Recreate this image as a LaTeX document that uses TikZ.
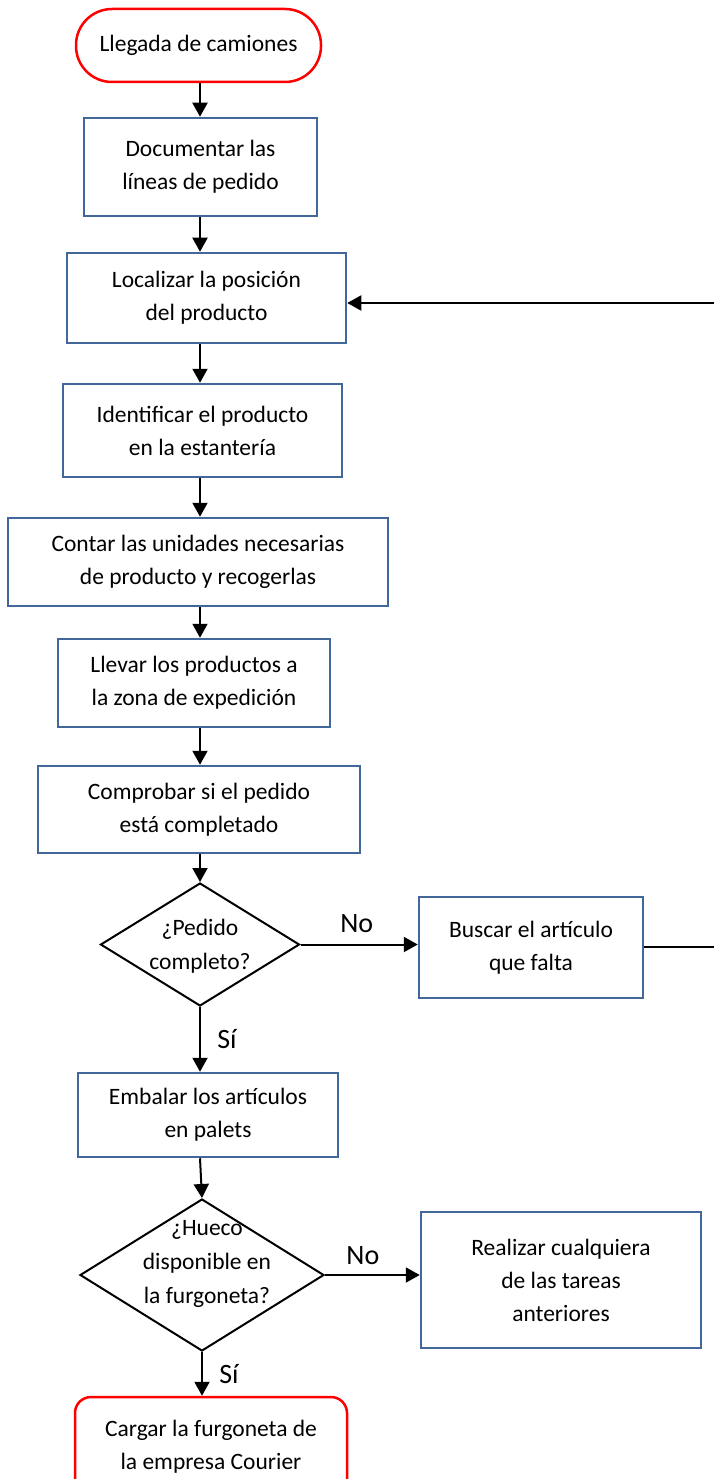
\documentclass[tikz,border=0pt]{standalone}
\usepackage{fontspec}
\setmainfont{Carlito}
\usetikzlibrary{
		shapes.geometric,
		arrows.meta,
		positioning
	}
\definecolor{boxblue}{HTML}{41679B}
\tikzset{
		>={Triangle[length=14pt,width=15pt]}
	}

\begin{document}
\begin{tikzpicture}[x=1pt, y=-1pt,
		proc/.style={draw=boxblue, line width=2.5pt, align=center, inner sep=0pt, font=\fontsize{23.5}{33}\selectfont},
		term/.style={draw=red, line width=2.5pt, align=center, inner sep=0pt, font=\fontsize{23.5}{33}\selectfont},
		decision/.style={diamond, draw, line width=2pt, inner sep=0pt},
		dtext/.style={align=center, inner sep=0pt, font=\fontsize{23.5}{34}\selectfont},
		flow/.style={->, line width=2pt},
		lbl/.style={font=\fontsize{28}{28}\selectfont}
	]
		\useasboundingbox (0,0) rectangle (713,1479);
		% main column
		\node[term, rounded corners=36pt, minimum width=245pt, minimum height=73pt] (start) at (198.5,45.5) {Llegada de camiones};
		\node[proc, minimum width=233pt, minimum height=98pt] (doc) at (200.5,167) {Documentar las\\l\'ineas de pedido};
		\node[proc, minimum width=279pt, minimum height=90pt] (loc) at (206.5,298) {Localizar la posici\'on\\del producto};
		\node[proc, minimum width=279pt, minimum height=93pt] (ident) at (202.5,430.5) {Identificar el producto\\en la estanter\'ia};
		\node[proc, minimum width=380pt, minimum height=88pt] (contar) at (198,562) {Contar las unidades necesarias\\de producto y recogerlas};
		\node[proc, minimum width=272pt, minimum height=88pt] (llevar) at (194,683) {Llevar los productos a\\la zona de expedici\'on};
		\node[proc, minimum width=322pt, minimum height=87pt] (compr) at (199,809.5) {Comprobar si el pedido\\est\'a completado};
		\node[decision, minimum width=199pt, minimum height=123pt] (pedido) at (200,944.5) {};
		\node[dtext] (pedidotxt) at (200,946) {¿Pedido\\completo?};
		\node[proc, minimum width=224pt, minimum height=101pt] (buscar) at (531,947.5) {Buscar el art\'iculo\\que falta};
		\node[proc, minimum width=260pt, minimum height=84pt] (embalar) at (208,1115) {Embalar los art\'iculos\\en palets};
		\node[decision, minimum width=244pt, minimum height=152pt] (hueco) at (202,1275) {};
		\node[dtext] (huecotxt) at (207,1264) {¿Hueco\\disponible en\\la furgoneta?};
		\node[proc, minimum width=280pt, minimum height=136pt] (realizar) at (561,1280) {Realizar cualquiera\\de las tareas\\anteriores};
		\node[term, rounded corners=16pt, minimum width=272pt, minimum height=100pt] (cargar) at (211,1447) {Cargar la furgoneta de\\la empresa Courier};
		% loop back, its corner lies past the right edge
		\coordinate (back1) at (716,947);
		\coordinate (back2) at (716,303);
		% connectors
		\draw[flow] (start.south -| pedido) -- (doc.north -| pedido);
		\draw[flow] (doc.south -| pedido) -- (loc.north -| pedido);
		\draw[flow] (loc.south -| pedido) -- (ident.north -| pedido);
		\draw[flow] (ident.south -| pedido) -- (contar.north -| pedido);
		\draw[flow] (contar.south -| pedido) -- (llevar.north -| pedido);
		\draw[flow] (llevar.south -| pedido) -- (compr.north -| pedido);
		\draw[flow] (compr.south -| pedido) -- (pedido.north);
		\draw[flow] (pedido.east) -- (pedido.east -| buscar.west) node[lbl, pos=0.48, above=7pt] (no1) {No};
		\draw[flow] (pedido.south) -- (embalar.north -| pedido) node[lbl, pos=0.5, right=13pt] (si1) {S\'i};
		\draw[flow] (embalar.south -| pedido) -- (hueco.north);
		\draw[flow] (hueco.east) -- (hueco.east -| realizar.west) node[lbl, pos=0.4, above=6pt] (no2) {No};
		\draw[flow] (hueco.south) -- (cargar.north -| hueco) node[lbl, pos=0.5, right=13pt] (si2) {S\'i};
		\draw[flow] (buscar.east |- back1) -- (back1) -- (back2) -- (loc.east |- back2);
	\end{tikzpicture}
\end{document}
